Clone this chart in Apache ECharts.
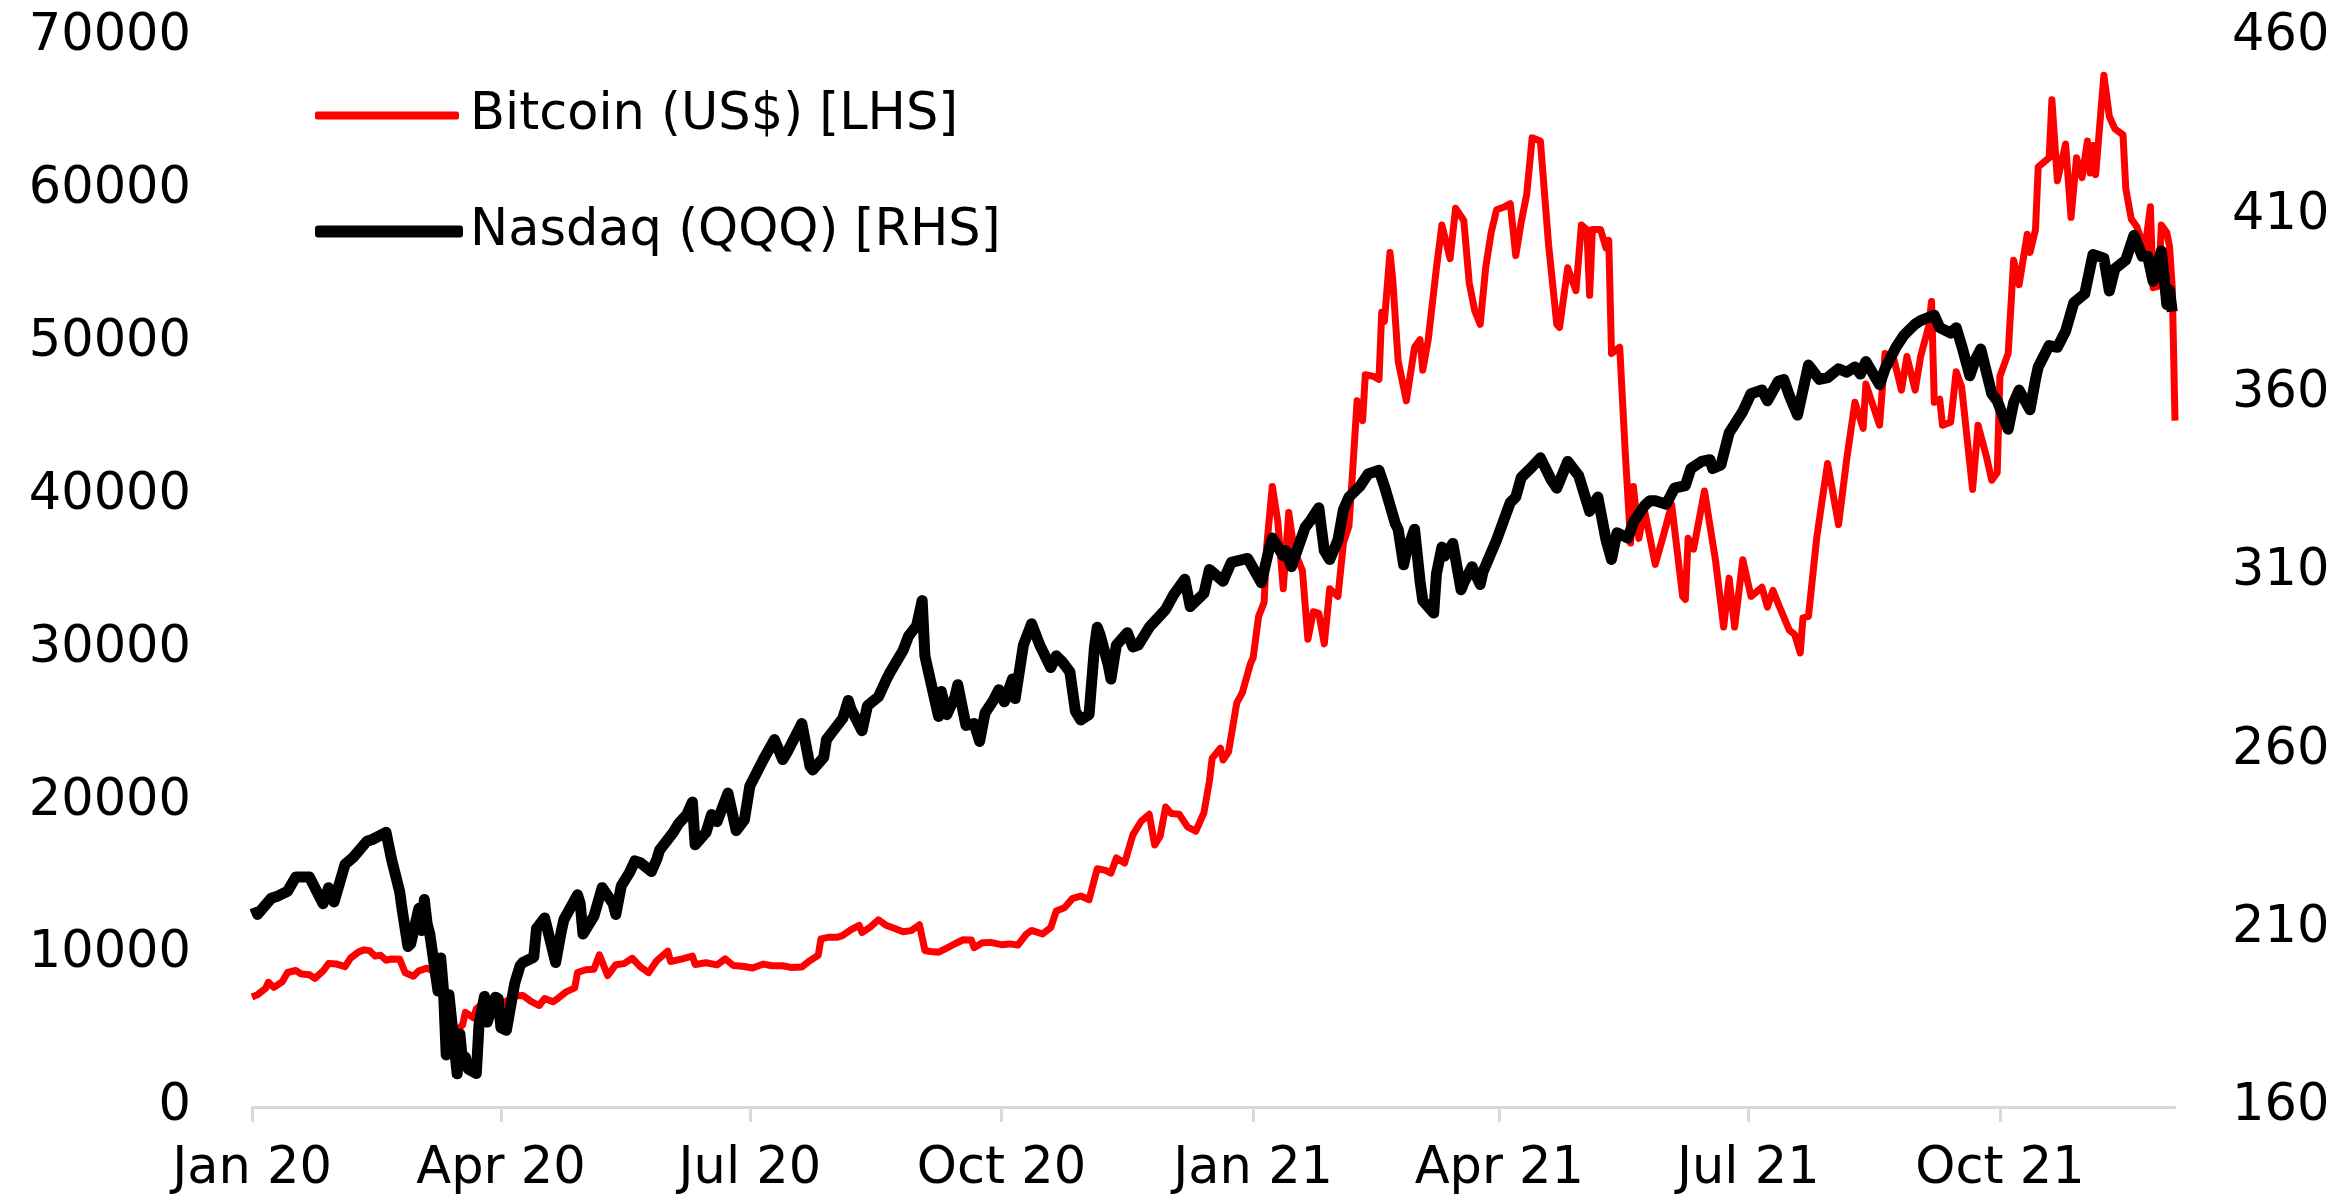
<!DOCTYPE html>
<html>
<head>
<meta charset="utf-8">
<title>Bitcoin vs Nasdaq</title>
<script src="https://cdn.jsdelivr.net/npm/echarts@6/dist/echarts.min.js"></script>
<style>
  html, body { margin: 0; height: 100%; background: #fff; }
  #main { width: 2346px; height: 1199px; }
</style>
</head>
<body>
<div id="main"></div>
<script>
// quarter ticks on the x axis
var tickDates = ['2020-01-01', '2020-04-01', '2020-07-01', '2020-10-01',
                 '2021-01-01', '2021-04-01', '2021-07-01', '2021-10-01'];
var tickLabels = ['Jan 20', 'Apr 20', 'Jul 20', 'Oct 20', 'Jan 21', 'Apr 21', 'Jul 21', 'Oct 21'];

// Bitcoin (US$), left axis
var btcDates = [
  '2020-01-01','2020-01-03','2020-01-06','2020-01-07','2020-01-09','2020-01-12','2020-01-14','2020-01-17',
  '2020-01-19','2020-01-22','2020-01-24','2020-01-27','2020-01-29','2020-02-01','2020-02-04','2020-02-06',
  '2020-02-09','2020-02-11','2020-02-13','2020-02-15','2020-02-17','2020-02-19','2020-02-21','2020-02-24',
  '2020-02-26','2020-02-29','2020-03-02','2020-03-05','2020-03-07','2020-03-09','2020-03-11','2020-03-12',
  '2020-03-13','2020-03-16','2020-03-18','2020-03-19','2020-03-22','2020-03-23','2020-03-25','2020-03-28',
  '2020-03-31','2020-04-02','2020-04-06','2020-04-09','2020-04-12','2020-04-15','2020-04-17','2020-04-20',
  '2020-04-22','2020-04-25','2020-04-28','2020-04-29','2020-05-02','2020-05-05','2020-05-07','2020-05-10',
  '2020-05-13','2020-05-16','2020-05-19','2020-05-22','2020-05-25','2020-05-28','2020-06-01','2020-06-02',
  '2020-06-06','2020-06-10','2020-06-11','2020-06-15','2020-06-19','2020-06-22','2020-06-25','2020-06-29',
  '2020-07-02','2020-07-06','2020-07-09','2020-07-13','2020-07-16','2020-07-20','2020-07-23','2020-07-26',
  '2020-07-27','2020-07-30','2020-08-02','2020-08-04','2020-08-07','2020-08-10','2020-08-11','2020-08-14',
  '2020-08-17','2020-08-20','2020-08-23','2020-08-26','2020-08-29','2020-09-01','2020-09-03','2020-09-05',
  '2020-09-08','2020-09-11','2020-09-14','2020-09-17','2020-09-20','2020-09-21','2020-09-24','2020-09-27',
  '2020-10-01','2020-10-04','2020-10-07','2020-10-10','2020-10-12','2020-10-16','2020-10-19','2020-10-21',
  '2020-10-24','2020-10-27','2020-10-30','2020-11-02','2020-11-05','2020-11-08','2020-11-10','2020-11-12',
  '2020-11-15','2020-11-18','2020-11-21','2020-11-24','2020-11-26','2020-11-28','2020-11-30','2020-12-02',
  '2020-12-05','2020-12-08','2020-12-11','2020-12-14','2020-12-16','2020-12-17','2020-12-20','2020-12-21',
  '2020-12-23','2020-12-26','2020-12-28','2020-12-31',
  '2021-01-01','2021-01-03','2021-01-05','2021-01-06','2021-01-08','2021-01-10','2021-01-12','2021-01-14',
  '2021-01-16','2021-01-19','2021-01-21','2021-01-23','2021-01-25','2021-01-27','2021-01-29','2021-02-01',
  '2021-02-03','2021-02-05','2021-02-06','2021-02-08','2021-02-10','2021-02-11','2021-02-14','2021-02-16',
  '2021-02-17','2021-02-18','2021-02-20','2021-02-21','2021-02-23','2021-02-26','2021-03-01','2021-03-03',
  '2021-03-04','2021-03-06','2021-03-09','2021-03-11','2021-03-14','2021-03-16','2021-03-19','2021-03-21',
  '2021-03-23','2021-03-25','2021-03-27','2021-03-29','2021-03-31','2021-04-03','2021-04-05','2021-04-07',
  '2021-04-09','2021-04-11','2021-04-13','2021-04-16','2021-04-19','2021-04-22','2021-04-23','2021-04-26',
  '2021-04-29','2021-05-01','2021-05-03','2021-05-04','2021-05-05','2021-05-08','2021-05-10','2021-05-11',
  '2021-05-12','2021-05-15','2021-05-17','2021-05-19','2021-05-20','2021-05-22','2021-05-24','2021-05-28',
  '2021-05-31','2021-06-03','2021-06-07','2021-06-08','2021-06-09','2021-06-11','2021-06-15','2021-06-17',
  '2021-06-19','2021-06-22','2021-06-24','2021-06-26','2021-06-29','2021-07-02','2021-07-06','2021-07-08',
  '2021-07-10','2021-07-12','2021-07-16','2021-07-18','2021-07-20','2021-07-21','2021-07-23','2021-07-26',
  '2021-07-28','2021-07-30','2021-08-03','2021-08-06','2021-08-09','2021-08-12','2021-08-13','2021-08-18',
  '2021-08-20','2021-08-23','2021-08-26','2021-08-28','2021-08-31','2021-09-02','2021-09-05','2021-09-06',
  '2021-09-07','2021-09-09','2021-09-10','2021-09-13','2021-09-15','2021-09-17','2021-09-21','2021-09-23',
  '2021-09-26','2021-09-28','2021-09-30','2021-10-01','2021-10-04','2021-10-06','2021-10-08','2021-10-11',
  '2021-10-12','2021-10-14','2021-10-15','2021-10-19','2021-10-20','2021-10-22','2021-10-25','2021-10-27',
  '2021-10-29','2021-10-31','2021-11-02','2021-11-03','2021-11-04','2021-11-05','2021-11-08','2021-11-10',
  '2021-11-12','2021-11-15','2021-11-16','2021-11-18','2021-11-20','2021-11-23','2021-11-25','2021-11-26',
  '2021-11-28','2021-11-29','2021-12-01','2021-12-02','2021-12-03','2021-12-04'
];
var btcValues = [
  7200, 7340, 7770, 8160, 7820, 8180, 8800, 8930,
  8700, 8650, 8410, 8900, 9390, 9350, 9180, 9740,
  10150, 10280, 10230, 9870, 9930, 9600, 9690, 9660,
  8780, 8560, 8910, 9080, 8910, 7940, 7910, 4970,
  5560, 5010, 5380, 6190, 5830, 6420, 6730, 6250,
  6440, 6810, 7270, 7300, 6910, 6640, 7100, 6880,
  7130, 7550, 7790, 8800, 8980, 9010, 9960, 8600,
  9310, 9380, 9730, 9170, 8790, 9580, 10200, 9520,
  9670, 9870, 9320, 9440, 9300, 9690, 9250, 9190,
  9090, 9350, 9240, 9240, 9130, 9160, 9580, 9930,
  11000, 11110, 11100, 11230, 11600, 11880, 11410, 11770,
  12250, 11870, 11680, 11470, 11540, 11920, 10240, 10170,
  10130, 10390, 10680, 10940, 10920, 10420, 10740, 10770,
  10620, 10670, 10590, 11300, 11550, 11320, 11740, 12820,
  13030, 13650, 13800, 13560, 15590, 15480, 15300, 16300,
  15960, 17800, 18680, 19150, 17140, 17720, 19630, 19200,
  19150, 18320, 18040, 19250, 21310, 22810, 23480, 22700,
  23240, 26440, 27080, 29000,
  29400, 32100, 33000, 36800, 40600, 38300, 33900, 38900,
  36400, 35100, 30600, 32400, 32300, 30300, 33900, 33400,
  36900, 38000, 40600, 46200, 44900, 47900, 47800, 47600,
  52000, 51400, 55900, 54200, 48800, 46200, 49700, 50200,
  48200, 50200, 54900, 57700, 55500, 58800, 58000, 53900,
  52100, 51200, 54900, 57200, 58700, 58900, 59100, 55700,
  57900, 59700, 63400, 63200, 56400, 51200, 51000, 54900,
  53400, 57700, 57400, 53100, 57400, 57400, 56200, 56700,
  49300, 49700, 42900, 36900, 40600, 37200, 39100, 35500,
  37400, 39400, 33400, 33200, 37200, 36500, 40300, 38000,
  35800, 31400, 34600, 31400, 35800, 33400, 34000, 32700,
  33800, 32900, 31200, 30900, 29700, 32000, 32100, 37200,
  39700, 42100, 38100, 42400, 46100, 44400, 47300, 44600,
  49300, 49100, 46900, 49100, 46900, 49100, 51100, 52700,
  46100, 46300, 44600, 44800, 48100, 47100, 40400, 44600,
  42600, 41000, 41500, 47800, 49300, 55400, 53800, 57100,
  55900, 57400, 61500, 62100, 65900, 60600, 63000, 58200,
  62100, 60800, 63200, 61100, 62900, 61000, 67500, 64800,
  64000, 63600, 60100, 58100, 57600, 56100, 58900, 53600,
  53700, 57700, 57200, 56300, 53600, 44900
];

// Nasdaq (QQQ), right axis
var qqqDates = [
  '2020-01-02','2020-01-03','2020-01-08','2020-01-10','2020-01-14','2020-01-17','2020-01-22','2020-01-24',
  '2020-01-27','2020-01-29','2020-01-31','2020-02-04','2020-02-07','2020-02-12','2020-02-14','2020-02-19',
  '2020-02-21','2020-02-24','2020-02-25','2020-02-27','2020-02-28','2020-03-02','2020-03-03','2020-03-04',
  '2020-03-05','2020-03-06','2020-03-09','2020-03-10','2020-03-11','2020-03-12','2020-03-13','2020-03-16',
  '2020-03-17','2020-03-18','2020-03-19','2020-03-20','2020-03-23','2020-03-24','2020-03-26','2020-03-27',
  '2020-03-30','2020-03-31','2020-04-01','2020-04-03','2020-04-06','2020-04-08','2020-04-09','2020-04-13',
  '2020-04-14','2020-04-17','2020-04-21','2020-04-23','2020-04-24','2020-04-29','2020-04-30','2020-05-01',
  '2020-05-05','2020-05-08','2020-05-12','2020-05-13','2020-05-15','2020-05-18','2020-05-20','2020-05-22',
  '2020-05-26','2020-05-28','2020-05-29','2020-06-03','2020-06-05','2020-06-08','2020-06-10','2020-06-11',
  '2020-06-15','2020-06-17','2020-06-19','2020-06-23','2020-06-26','2020-06-29','2020-07-01','2020-07-06',
  '2020-07-10','2020-07-13','2020-07-15','2020-07-20','2020-07-23','2020-07-24','2020-07-28','2020-07-29',
  '2020-07-31','2020-08-04','2020-08-06','2020-08-07','2020-08-11','2020-08-13','2020-08-17','2020-08-20',
  '2020-08-21','2020-08-26','2020-08-28','2020-08-31','2020-09-02','2020-09-03','2020-09-04','2020-09-08',
  '2020-09-09','2020-09-11','2020-09-14','2020-09-15','2020-09-18','2020-09-21','2020-09-23','2020-09-25',
  '2020-09-28','2020-09-30','2020-10-02','2020-10-05','2020-10-06','2020-10-09','2020-10-12','2020-10-15',
  '2020-10-19','2020-10-21','2020-10-23','2020-10-26','2020-10-28','2020-10-30','2020-11-02','2020-11-04',
  '2020-11-05','2020-11-06','2020-11-09','2020-11-10','2020-11-12','2020-11-16','2020-11-18','2020-11-20',
  '2020-11-24','2020-11-30','2020-12-03','2020-12-07','2020-12-09','2020-12-14','2020-12-16','2020-12-21',
  '2020-12-24','2020-12-30',
  '2021-01-04','2021-01-07','2021-01-08','2021-01-12','2021-01-13','2021-01-15','2021-01-20','2021-01-22',
  '2021-01-25','2021-01-27','2021-01-29','2021-02-01','2021-02-03','2021-02-05','2021-02-09','2021-02-12',
  '2021-02-16','2021-02-18','2021-02-22','2021-02-23','2021-02-25','2021-02-26','2021-03-01','2021-03-03',
  '2021-03-04','2021-03-08','2021-03-09','2021-03-11','2021-03-12','2021-03-15','2021-03-18','2021-03-19',
  '2021-03-22','2021-03-25','2021-03-26','2021-03-31','2021-04-05','2021-04-07','2021-04-09','2021-04-13',
  '2021-04-16','2021-04-20','2021-04-22','2021-04-26','2021-04-28','2021-04-30','2021-05-04','2021-05-07',
  '2021-05-10','2021-05-12','2021-05-14','2021-05-18','2021-05-20','2021-05-24','2021-05-26','2021-05-28',
  '2021-06-01','2021-06-04','2021-06-08','2021-06-10','2021-06-14','2021-06-17','2021-06-18','2021-06-21',
  '2021-06-24','2021-06-29','2021-07-02','2021-07-06','2021-07-08','2021-07-12','2021-07-14','2021-07-16',
  '2021-07-19','2021-07-21','2021-07-23','2021-07-27','2021-07-30','2021-08-03','2021-08-06','2021-08-09',
  '2021-08-11','2021-08-13','2021-08-18','2021-08-20','2021-08-24','2021-08-27','2021-08-31','2021-09-02',
  '2021-09-07','2021-09-09','2021-09-13','2021-09-15','2021-09-17','2021-09-20','2021-09-22','2021-09-24',
  '2021-09-28','2021-09-30','2021-10-04','2021-10-06','2021-10-08','2021-10-12','2021-10-14','2021-10-15',
  '2021-10-19','2021-10-22','2021-10-25','2021-10-28','2021-11-01','2021-11-04','2021-11-08','2021-11-10',
  '2021-11-12','2021-11-16','2021-11-19','2021-11-22','2021-11-24','2021-11-26','2021-11-29','2021-11-30',
  '2021-12-01','2021-12-02','2021-12-03'
];
var qqqValues = [
  216, 214, 218.5, 219, 220.5, 224.5, 224.5, 221.5,
  217, 221.5, 217.5, 228, 230, 234.5, 235, 237,
  229.5, 220.3, 214.8, 205, 205.7, 215.7, 209.5, 218.2,
  211.5, 208.5, 192.5, 201.8, 192.7, 174.6, 191.5, 169.3,
  180.5, 172.5, 174, 170.7, 169.4, 183.3, 191, 183.8,
  190.8, 190.4, 182.2, 181.5, 194.5, 199.6, 200.5, 202,
  210, 213, 200.5, 209, 212.5, 219.5, 217, 208.5,
  213.5, 221.5, 217, 214, 222, 225.7, 229, 228.5,
  226, 229.5, 232, 237, 239.5, 242, 245.5, 233.5,
  237, 242, 240, 248, 237.5, 240.5, 250, 257.5,
  263, 257.4, 260, 267.5, 255.5, 254.5, 258, 263,
  265, 269, 274, 271.5, 265.5, 272.5, 275, 280,
  281.5, 288, 292, 295, 302, 286.5, 283, 269.5,
  276.5, 270, 275, 278.4, 267, 267.5, 262.5, 270.5,
  274, 277, 273.6, 280, 274.5, 289.5, 295.5, 289.5,
  283.2, 286.5, 285, 282, 271, 268.5, 270, 289,
  294.5, 292.5, 284, 280, 289.5, 293, 289, 289.5,
  294.5, 299.5, 303.7, 308, 300.3, 304, 310.7, 307.4,
  312.7, 313.8,
  307, 317, 319.5, 314.5, 316, 311.5, 322.5, 324.5,
  328, 316, 313.5, 319, 327.5, 331, 334, 337.5,
  338.5, 334, 323.5, 322, 312, 315.5, 322, 307.5,
  302, 298.5, 309.5, 317, 314.5, 318, 305, 307,
  311.5, 306.5, 310, 319, 329.5, 331, 336.5, 339.5,
  342, 335.8, 333.5, 341, 339, 337, 327, 331,
  319, 313.5, 321, 319.5, 324, 328.5, 330, 330,
  329, 333.5, 334.2, 339, 341, 341.5, 339, 340,
  349, 355, 360, 361, 358, 363.5, 364, 359.5,
  354, 361, 368, 364, 364.5, 367, 366, 367.5,
  365.5, 369, 362.5, 367, 373, 376.5, 379.5, 380.5,
  382, 378.5, 377, 378.5, 373.5, 365, 369.5, 372.5,
  360, 358, 350, 357.5, 361, 355.5, 364, 367.5,
  373.5, 373, 377.5, 385.5, 388, 399, 398, 388.8,
  395, 397.5, 404.4, 398.5, 398.5, 391.5, 400, 393,
  385, 389, 383
];

function toTime(s) {
  var p = s.split('-');
  return new Date(+p[0], +p[1] - 1, +p[2]).getTime();
}
function pairs(dates, values) {
  var out = [];
  for (var i = 0; i < dates.length; i++) {
    out.push([toTime(dates[i]), values[i]]);
  }
  return out;
}

var tickTimes = tickDates.map(toTime);
var font = 'DejaVu Sans';
var fontSize = 51;

var chart = echarts.init(document.getElementById('main'));
var option = {
  animation: false,
  backgroundColor: '#ffffff',
  grid: { left: 252, right: 171, top: 37, bottom: 92, containLabel: false },
  legend: [{
    data: [{ name: 'Bitcoin (US$) [LHS]', icon: 'roundRect' }],
    left: 315, top: 90, padding: 0,
    itemWidth: 144, itemHeight: 8,
    textStyle: { fontFamily: font, fontSize: fontSize, color: '#000', padding: [0, 0, 0, 6] }
  }, {
    data: [{ name: 'Nasdaq (QQQ) [RHS]', icon: 'roundRect' }],
    left: 315, top: 206, padding: 0,
    itemWidth: 148, itemHeight: 12,
    textStyle: { fontFamily: font, fontSize: fontSize, color: '#000', padding: [0, 0, 0, 2] }
  }],
  xAxis: {
    type: 'value',
    min: toTime('2020-01-01'),
    max: toTime('2021-12-04'),
    splitLine: { show: false },
    axisLine: { show: true, onZero: false, lineStyle: { color: '#d9d9d9', width: 3 } },
    axisTick: {
      show: true, inside: false, length: 15,
      lineStyle: { color: '#d9d9d9', width: 3 },
      customValues: tickTimes
    },
    axisLabel: {
      customValues: tickTimes,
      margin: 37,
      fontFamily: font, fontSize: fontSize, color: '#000',
      formatter: function (v) {
        for (var i = 0; i < tickTimes.length; i++) {
          if (Math.abs(tickTimes[i] - v) < 1000) return tickLabels[i];
        }
        return '';
      }
    }
  },
  yAxis: [{
    type: 'value',
    min: 0, max: 70000, interval: 10000,
    axisLine: { show: false },
    axisTick: { show: false },
    splitLine: { show: false },
    axisLabel: {
      margin: 61, fontFamily: font, fontSize: fontSize, color: '#000',
      formatter: function (v) { return String(v); }
    }
  }, {
    type: 'value',
    position: 'right',
    min: 160, max: 460, interval: 50,
    axisLine: { show: false },
    axisTick: { show: false },
    splitLine: { show: false },
    axisLabel: {
      margin: 57, fontFamily: font, fontSize: fontSize, color: '#000',
      formatter: function (v) { return String(v); }
    }
  }],
  series: [{
    name: 'Bitcoin (US$) [LHS]',
    type: 'line',
    yAxisIndex: 0,
    showSymbol: false,
    symbol: 'none',
    lineStyle: { color: '#ff0000', width: 7, join: 'round' },
    itemStyle: { color: '#ff0000' },
    data: pairs(btcDates, btcValues)
  }, {
    name: 'Nasdaq (QQQ) [RHS]',
    type: 'line',
    yAxisIndex: 1,
    showSymbol: false,
    symbol: 'none',
    lineStyle: { color: '#000000', width: 11, join: 'round' },
    itemStyle: { color: '#000000' },
    data: pairs(qqqDates, qqqValues)
  }]
};
chart.setOption(option);
</script>
</body>
</html>
